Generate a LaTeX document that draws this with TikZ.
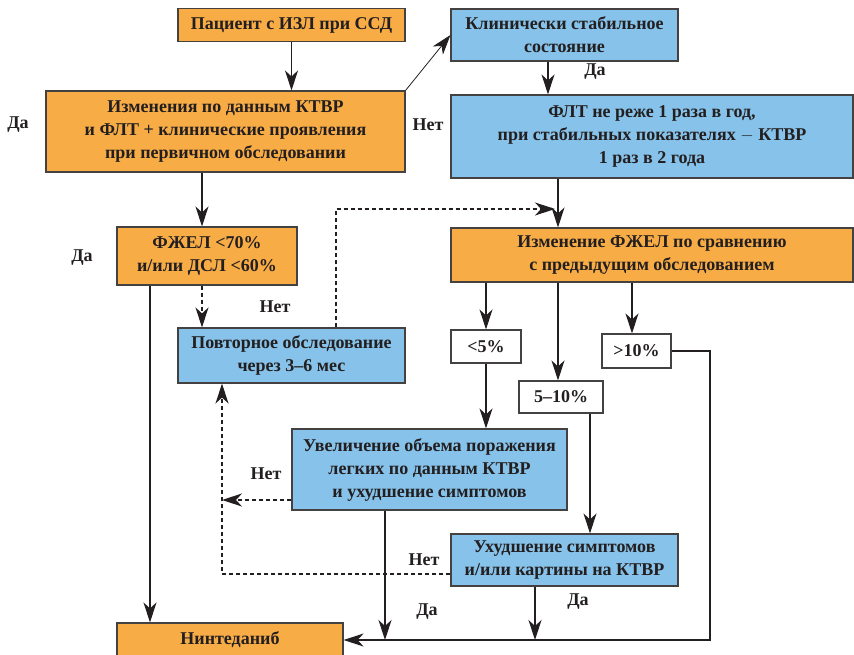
\documentclass[tikz,border=0pt]{standalone}
\usepackage{fontspec}
\setmainfont{Liberation Serif}
\usetikzlibrary{arrows.meta}
\definecolor{boxorange}{RGB}{248,172,70}
\definecolor{boxblue}{RGB}{134,194,233}
\definecolor{ink}{RGB}{35,31,32}

\begin{document}
\begin{tikzpicture}[x=1pt,y=-1pt,
  box/.style={draw=ink!85, line width=1.1pt, inner sep=0pt, align=center, text=ink,
    font=\bfseries\fontsize{18}{23}\selectfont},
  orangebox/.style={box, fill=boxorange},
  bluebox/.style={box, fill=boxblue},
  whitebox/.style={box, fill=white},
  arr/.style={-{Stealth[length=20pt,width=13pt,inset=6pt]}, line width=1.1pt, draw=ink},
  dasharr/.style={arr, dash pattern=on 4pt off 3pt},
  lbl/.style={text=ink, font=\bfseries\fontsize{18}{23}\selectfont}]
% Page frame
\useasboundingbox (0,0) rectangle (854,655);
% Corner points of the long connectors
\coordinate (mergept) at (558,209);
\coordinate (rcorner) at (710,640);
\coordinate (lcorner) at (222,574);
% Left column boxes
\node[orangebox, minimum width=227pt, minimum height=33pt] (pat) at (291.5,25) {Пациент с ИЗЛ при ССД};
\node[orangebox, minimum width=359pt, minimum height=81pt] (izm) at (225.5,131.5) {Изменения по данным КТВР\\и ФЛТ + клинические проявления\\при первичном обследовании};
\node[orangebox, minimum width=180pt, minimum height=58pt] (fzhel) at (207,256) {ФЖЕЛ <70\%\\и/или ДСЛ <60\%};
\node[bluebox, minimum width=227pt, minimum height=55pt] (povt) at (291.5,355.5) {Повторное обследование\\через 3--6 мес};
\node[orangebox, minimum width=226pt, minimum height=34pt] (nint) at (230,640) {Нинтеданиб};
% Right column boxes
\node[bluebox, minimum width=227pt, minimum height=52pt] (klin) at (564.5,35) {Клинически стабильное\\состояние};
\node[bluebox, minimum width=402pt, minimum height=83pt] (flt) at (652,136.5) {ФЛТ не реже 1 раза в год,\\при стабильных показателях $-$ КТВР\\1 раз в 2 года};
\node[orangebox, minimum width=402pt, minimum height=54pt] (dfzhel) at (652,255) {Изменение ФЖЕЛ по сравнению\\с предыдущим обследованием};
% Change of FVC
\node[whitebox, minimum width=70pt, minimum height=33pt] (lt5) at (486,346.5) {<5\%};
\node[whitebox, minimum width=84pt, minimum height=32pt] (mid) at (561,397) {5--10\%};
\node[whitebox, minimum width=69pt, minimum height=34pt] (gt10) at (636.5,351) {>10\%};
\node[bluebox, minimum width=275pt, minimum height=81pt] (uvel) at (429.5,469.5) {Увеличение объема поражения\\легких по данным КТВР\\и ухудшение симптомов};
\node[bluebox, minimum width=227pt, minimum height=52pt] (uhud) at (564.5,560) {Ухудшение симптомов\\и/или картины на КТВР};
% Solid connectors
\draw[arr] (pat.south) -- (pat.south |- izm.north);
\draw[arr, line width=0.8pt] (izm.north east) -- (klin.west);
\draw[arr] ([xshift=-16.5pt]klin.south) -- ([xshift=-16.5pt]klin.south |- flt.north);
\draw[arr] ([xshift=-5pt]fzhel.north |- izm.south) -- ([xshift=-5pt]fzhel.north);
\draw[arr] ([xshift=-57pt]fzhel.south) -- ([xshift=-57pt]fzhel.south |- nint.north);
\draw[arr] (flt.south -| mergept) -- (mergept |- dfzhel.north);
\draw[arr] (lt5.north |- dfzhel.south) -- (lt5.north);
\draw[arr] ([xshift=-3pt]mid.north |- dfzhel.south) -- ([xshift=-3pt]mid.north);
\draw[arr] ([xshift=-4.5pt]gt10.north |- dfzhel.south) -- ([xshift=-4.5pt]gt10.north);
\draw[arr] (lt5.south) -- (lt5.south |- uvel.north);
\draw[arr] ([xshift=29pt]mid.south) -- ([xshift=29pt]mid.south |- uhud.north);
\draw[arr] (gt10.east) -| (rcorner) -- (rcorner -| nint.east);
\draw[arr] ([xshift=-44.5pt]uvel.south) -- ([xshift=-44.5pt]uvel.south |- rcorner);
\draw[arr] ([xshift=-29.5pt]uhud.south) -- ([xshift=-29.5pt]uhud.south |- rcorner);
% Dashed connectors
\draw[dasharr] ([xshift=-5pt]fzhel.south) -- ([xshift=-5pt]fzhel.south |- povt.north);
\draw[dasharr] ([xshift=44.5pt]povt.north) |- ([xshift=-3pt]mergept);
\draw[dasharr] ([yshift=-30.5pt]uvel.west) -- ([yshift=-30.5pt]uvel.west -| lcorner);
\draw[dasharr] ([yshift=-14pt]uhud.west) -- (lcorner) -- (lcorner |- povt.south);
% Yes / No labels
\node[lbl] (daizm) at (18,125) {Да};
\node[lbl] (netizm) at (428,125) {Нет};
\node[lbl] (daklin) at (595,72) {Да};
\node[lbl] (dafzhel) at (82,258) {Да};
\node[lbl] (netfzhel) at (275,307) {Нет};
\node[lbl] (netuvel) at (266,474) {Нет};
\node[lbl] (netuhud) at (424,560) {Нет};
\node[lbl] (dauvel) at (427,612) {Да};
\node[lbl] (dauhud) at (578,602) {Да};
\end{tikzpicture}
\end{document}
